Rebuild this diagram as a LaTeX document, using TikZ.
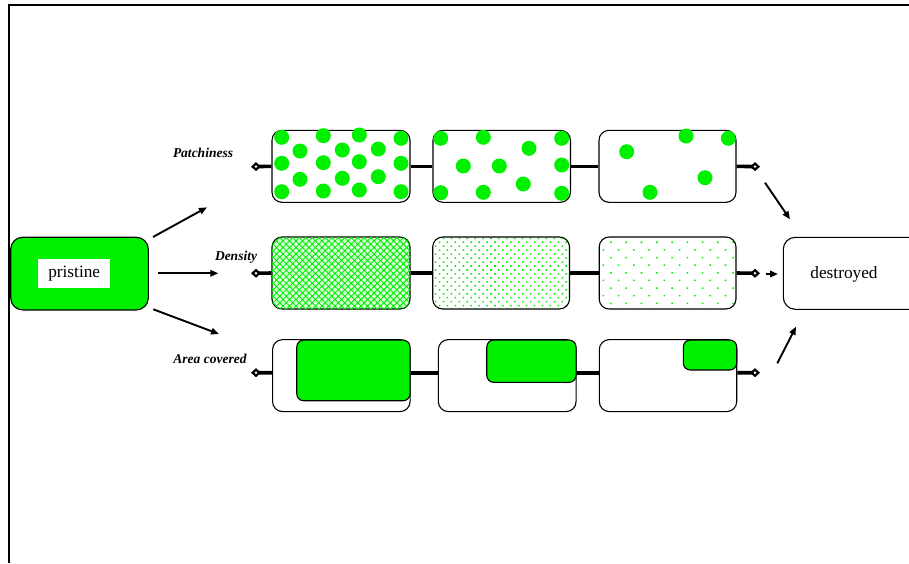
\documentclass[tikz,border=0pt]{standalone}
\usepackage{fontspec}
\setmainfont{Liberation Serif}
\usetikzlibrary{arrows.meta,patterns.meta}
\definecolor{lime}{RGB}{0,240,0}
\begin{document}
\begin{tikzpicture}[x=1pt,y=-1pt,
  box/.style={draw=black, line width=1.1pt, rounded corners=10pt, inner sep=0pt, minimum height=72pt},
  greenbox/.style={draw=black, fill=lime, line width=1.1pt, rounded corners=7pt, inner sep=0pt},
  conn/.style={line width=3.6pt},
  endtip/.style={line width=3.6pt, -{Diamond[open, length=10pt, width=9pt, line width=2.2pt]}},
  arr/.style={line width=1.9pt, -{Triangle[length=8pt, width=6.5pt]}},
  lab/.style={font=\fontsize{13.5}{15}\selectfont\bfseries\itshape, inner sep=0pt},
  big/.style={font=\fontsize{17.3}{19}\selectfont},
  dot/.style={fill=lime, draw=none}]
\useasboundingbox (0,0) rectangle (909,563);
% frame
\draw[line width=1.4pt] (9,563) -- (9,5) -- (909,5);

% pristine
\node[draw=black, fill=lime, line width=1.1pt, rounded corners=12pt, minimum width=137.6pt, minimum height=72.7pt] (pr) at (79.5,273.6) {};
\node[fill=white, minimum width=71.7pt, minimum height=28.4pt, inner sep=0pt, big] (prt) at (74.2,273.5) {pristine};

% destroyed
\node[draw=black, line width=1.1pt, rounded corners=12pt, minimum width=150pt, minimum height=72pt] (de) at (858.3,273.3) {};
\node[big, inner sep=0pt] (det) at (844,274.5) {destroyed};

% labels
\node[lab] (lp) at (203,153) {Patchiness};
\node[lab] (ld) at (236,257) {Density};
\node[lab] (la) at (210,359) {Area covered};

% row 1: patchiness
\node[box, minimum width=138pt] (a1) at (341,166.3) {};
\node[box, minimum width=137.5pt] (a2) at (501.7,166.3) {};
\node[box, minimum width=137pt] (a3) at (667.5,166.3) {};
\coordinate (a0) at (251,166.7);
\coordinate (a4) at (760,166.7);
\draw[endtip] (a1.west) -- (a0);
\draw[conn] (a1.east) -- (a2.west);
\draw[conn] (a2.east) -- (a3.west);
\draw[endtip] (a3.east) -- (a4);
\foreach \x/\y in {281.7/137.3,300/151,323.3/135.7,342.3/150,359.3/135,378.3/149,401/138.3,
  281.7/163.3,323.3/162.7,359.3/161.7,401/163.3,
  300/179.3,342.3/178.3,378.3/176.7,
  281.7/191.7,323.3/191,359.3/190,401/191.7,
  440.7/138.3,483.3/137.3,529/148.3,561.7/138.3,463.3/166,499.3/166,561.7/165,
  440.7/192.7,483.3/192.3,523.3/184,561.7/193.3,
  626.7/151.7,686/136,728.3/138.3,705/177.7,650/192.3}
  \fill[dot] (\x,\y) circle[radius=7.5pt];

% row 2: density
\node[box, minimum width=138pt, fill=lime!15, postaction={pattern={Hatch[angle=45,distance=4.6pt,line width=0.95pt]}, pattern color=lime}] (b1) at (341,273) {};
\node[box, minimum width=136.8pt, pattern={Dots[angle=45,distance=5.6pt,radius=1.1pt]}, pattern color=lime] (b2) at (501.1,273) {};
\node[box, minimum width=136.8pt, pattern={Dots[angle=45,distance=10.8pt,radius=1.1pt]}, pattern color=lime] (b3) at (667.6,273) {};
\coordinate (b0) at (251,273.3);
\coordinate (b4) at (760,273.3);
\draw[endtip] (b1.west) -- (b0);
\draw[conn] (b1.east) -- (b2.west);
\draw[conn] (b2.east) -- (b3.west);
\draw[endtip] (b3.east) -- (b4);

% row 3: area covered
\node[box, minimum width=137.5pt] (c1) at (341.3,375.6) {};
\node[box, minimum width=137.7pt] (c2) at (507.2,375.6) {};
\node[box, minimum width=137.4pt] (c3) at (668,375.6) {};
\coordinate (c0) at (251,372.7);
\coordinate (c4) at (760,372.7);
\draw[endtip] ([yshift=2.9pt]c1.west) -- (c0);
\draw[conn] ([yshift=2.9pt]c1.east) -- ([yshift=2.9pt]c2.west);
\draw[conn] ([yshift=2.9pt]c2.east) -- ([yshift=2.9pt]c3.west);
\draw[endtip] ([yshift=2.9pt]c3.east) -- (c4);
\node[greenbox, minimum width=113.3pt, minimum height=60.7pt] (g1) at (353.4,370.4) {};
\node[greenbox, minimum width=89.3pt, minimum height=42.3pt] (g2) at (531.4,361.2) {};
\node[greenbox, minimum width=53.4pt, minimum height=30pt] (g3) at (710,355) {};

% arrows from pristine
\coordinate (u1) at (153,237);  \coordinate (u2) at (207,207.3);
\coordinate (m1) at (158.3,273.3); \coordinate (m2) at (218.3,273.3);
\coordinate (l1) at (153.3,309.3); \coordinate (l2) at (219,334);
\draw[arr] (u1) -- (u2);
\draw[arr] (m1) -- (m2);
\draw[arr] (l1) -- (l2);

% arrows to destroyed
\coordinate (t1) at (765,182.7); \coordinate (t2) at (790,219.3);
\coordinate (s1) at (766,274);   \coordinate (s2) at (778,274);
\coordinate (v1) at (777.3,363.3); \coordinate (v2) at (796,326.7);
\draw[arr] (t1) -- (t2);
\draw[arr] (s1) -- (s2);
\draw[arr] (v1) -- (v2);
\end{tikzpicture}
\end{document}
